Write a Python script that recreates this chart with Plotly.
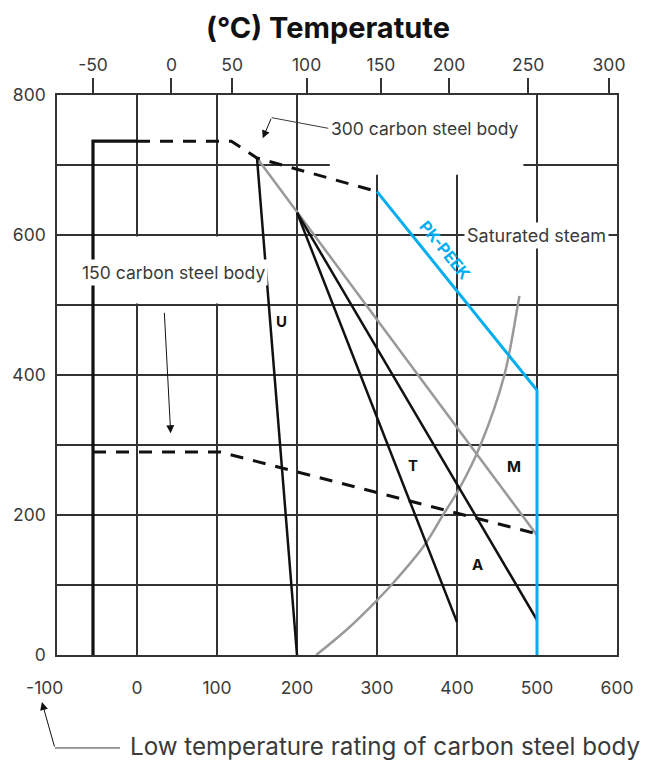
import plotly.graph_objects as go

# ---- data ----
temp_f_ticks = [-100, 0, 100, 200, 300, 400, 500, 600]
temp_f_labels = ["-100\u00a0\u00a0\u00a0\u00a0\u00a0", "0", "100", "200", "300", "400", "500", "600"]
pressure_ticks = [0, 100, 200, 300, 400, 500, 600, 700, 800]
pressure_labels = ["0", "", "200", "", "400", "", "600", "", "800"]
temp_c_labels = ["-50", "0", "50", "100", "150", "200", "250", "300"]
temp_c_pos_f = [-55, 43, 119, 212, 305, 390, 489, 590]

low_limit_f = [-55, -55, 0]
low_limit_p = [0, 734, 734]
cs300_f = [0, 118, 150, 300]
cs300_p = [734, 734, 710, 662]
cs150_f = [-55, 104, 500]
cs150_p = [290, 290, 173]
u_f = [150, 200]
u_p = [710, 0]
m_f = [150, 500]
m_p = [710, 171]
t_f = [200, 400]
t_p = [632, 47]
a_f = [200, 500]
a_p = [632, 50]
peek_f = [300, 500, 500]
peek_p = [662, 378, 0]
steam_f = [224, 262, 299, 321, 360, 382, 404, 429, 459, 476, 478]
steam_p = [0, 36, 77, 104, 158, 199, 240, 299, 399, 500, 513]

FONT = "Inter"
GRID = "#333333"
TXT = "#3a3a3a"
BLUE = "#00AEEF"
GRAY = "#999999"
DASH = "13px,10px"

fig = go.Figure()

def line(x, y, color, width, dash="solid", shape="linear"):
    fig.add_trace(go.Scatter(x=x, y=y, mode="lines", showlegend=False,
                             hoverinfo="skip",
                             line=dict(color=color, width=width, dash=dash, shape=shape)))

line(steam_f, steam_p, GRAY, 2.5, shape="spline")
line(m_f, m_p, GRAY, 2.5)
line(u_f, u_p, "#111111", 2.5)
line(t_f, t_p, "#111111", 2.5)
line(a_f, a_p, "#111111", 2.5)
line(cs150_f, cs150_p, "#111111", 3, dash=DASH)
line(cs300_f, cs300_p, "#111111", 3, dash=DASH)
line(low_limit_f, low_limit_p, "#111111", 3.2)
line(peek_f, peek_p, BLUE, 3)

# invisible trace to carry the top (°C) axis
fig.add_trace(go.Scatter(x=[-100], y=[0], xaxis="x2", mode="markers",
                         marker=dict(opacity=0), showlegend=False, hoverinfo="skip"))

# white boxes hiding the grid behind the labels
fig.add_shape(type="rect", xref="x", yref="y", x0=241, x1=483, y0=686, y1=800,
              fillcolor="white", line=dict(width=0), layer="between")
fig.add_shape(type="rect", xref="x", yref="y", x0=-99, x1=185, y0=502, y1=598,
              fillcolor="white", line=dict(width=0), layer="between")

ann_font = dict(family=FONT, size=17.5, color=TXT)

# 300 carbon steel body
fig.add_annotation(x=240, y=752, xref="x", yref="y", text="300 carbon steel body",
                   showarrow=False, xanchor="left", yanchor="middle", font=ann_font)
fig.add_shape(type="line", xref="x", yref="y", x0=168.4, y0=767.6, x1=239.1, y1=752.4,
              line=dict(color=TXT, width=1))
fig.add_annotation(x=157.1, y=738.1, xref="x", yref="y", text="", showarrow=True,
                   ax=9, ay=-21, arrowhead=2, arrowsize=1.6, arrowwidth=1, arrowcolor="#111")

# 150 carbon steel body
fig.add_annotation(x=45, y=547, xref="x", yref="y", text="150 carbon steel body",
                   showarrow=False, font=ann_font, bgcolor="white", borderpad=2)
fig.add_annotation(x=42.1, y=316.7, xref="x", yref="y", text="", showarrow=True,
                   ax=-6.4, ay=-122, arrowhead=2, arrowsize=1.6, arrowwidth=1, arrowcolor="#111")

# saturated steam
fig.add_annotation(x=499, y=600, xref="x", yref="y", text="Saturated steam",
                   showarrow=False, font=dict(family=FONT, size=18, color=TXT),
                   bgcolor="white", borderpad=2)

# PK-PEEK
fig.add_annotation(x=385, y=578, xref="x", yref="y", text="<b>PK-PEEK</b>",
                   showarrow=False, textangle=51,
                   font=dict(family=FONT, size=16, color=BLUE))

# curve letters
for txt, xf, yp in [("U", 181, 476), ("T", 345, 271), ("M", 471, 269), ("A", 426, 129)]:
    fig.add_annotation(x=xf, y=yp, xref="x", yref="y", text="<b>%s</b>" % txt,
                       showarrow=False, font=dict(family=FONT, size=15, color="#111"))

# low temperature rating note (below the plot)
fig.add_annotation(x=0.127, y=-0.1625, xref="paper", yref="paper",
                   text="Low temperature rating of carbon steel body",
                   showarrow=False, xanchor="left", yanchor="middle",
                   font=dict(family=FONT, size=24.2, color=TXT))
fig.add_shape(type="line", xref="paper", yref="paper", x0=-0.0036, y0=-0.166,
              x1=0.1125, y1=-0.166, line=dict(color=TXT, width=1))
fig.add_annotation(x=-0.027, y=-0.084, xref="paper", yref="paper", text="",
                   showarrow=True, ax=13, ay=46, arrowhead=2, arrowsize=1.6,
                   arrowwidth=1, arrowcolor="#111")

fig.update_layout(
    width=640, height=752,
    margin=dict(l=49, r=31, t=87, b=105, autoexpand=False),
    paper_bgcolor="white", plot_bgcolor="white",
    title=dict(text="<b>(°C) Temperatute</b>", x=0.5, xanchor="center",
               y=1 - 20 / 752, yanchor="middle", yref="container",
               font=dict(family=FONT, size=29, color="#111")),
    xaxis=dict(range=[-100, 600], tickvals=temp_f_ticks, ticktext=temp_f_labels,
               showgrid=True, gridcolor=GRID, gridwidth=1.5, zeroline=False,
               showline=True, mirror=True, linecolor=GRID, linewidth=1.5, ticks="",
               automargin=False,
               ticklabelstandoff=16, tickfont=dict(family=FONT, size=17.5, color=TXT)),
    xaxis2=dict(range=[-100, 600], overlaying="x", side="top",
                tickvals=temp_c_pos_f, ticktext=temp_c_labels, showgrid=False,
                zeroline=False, showline=False, ticks="outside", ticklen=16,
                tickcolor=GRID, tickwidth=1.5, ticklabelstandoff=0, automargin=False,
                tickfont=dict(family=FONT, size=17.5, color=TXT)),
    yaxis=dict(range=[0, 800], tickvals=pressure_ticks, ticktext=pressure_labels,
               showgrid=True, gridcolor=GRID, gridwidth=1.5, zeroline=False,
               showline=True, mirror=True, linecolor=GRID, linewidth=1.5,
               ticks="", ticklabelstandoff=6, automargin=False,
               tickfont=dict(family=FONT, size=17.5, color=TXT)),
)

fig.write_html("out.html")
